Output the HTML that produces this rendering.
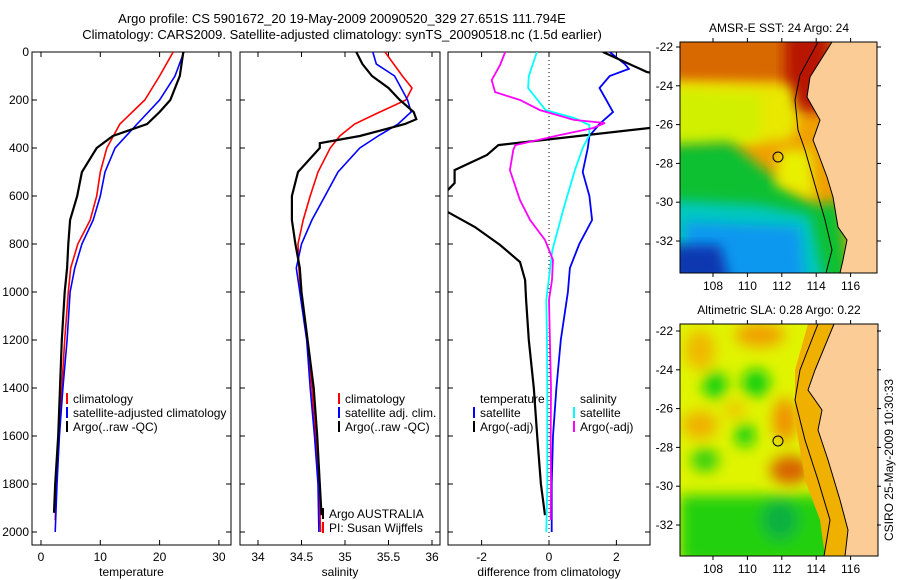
<!DOCTYPE html>
<html><head><meta charset="utf-8"><style>
html,body{margin:0;padding:0;background:#fff}
svg{display:block;font-family:"Liberation Sans",sans-serif}
</style></head><body>
<svg id="fig" width="900" height="580" viewBox="0 0 900 580">
<defs>
<clipPath id="c1"><rect x="32" y="52" width="199" height="493"/></clipPath>
<clipPath id="c2"><rect x="240" y="52" width="200" height="493"/></clipPath>
<clipPath id="c3"><rect x="448" y="52" width="202" height="493"/></clipPath>
<clipPath id="m1"><rect x="680" y="42" width="197" height="231"/></clipPath>
<clipPath id="m2"><rect x="680" y="324" width="198" height="232"/></clipPath>
<filter id="bl" x="-20%" y="-20%" width="140%" height="140%"><feGaussianBlur stdDeviation="7"/></filter>
<filter id="bl2" x="-20%" y="-20%" width="140%" height="140%"><feGaussianBlur stdDeviation="6"/></filter>
</defs>
<text x="342" y="23" font-size="13" text-anchor="middle">Argo profile: CS 5901672_20 19-May-2009 20090520_329 27.651S 111.794E</text>
<text x="342" y="39" font-size="13" text-anchor="middle">Climatology: CARS2009. Satellite-adjusted climatology: synTS_20090518.nc (1.5d earlier)</text>

<!-- Map 1 SST -->
<g clip-path="url(#m1)">
<rect x="680" y="42" width="197" height="231" fill="#f0a000"/>
<rect x="670" y="32" width="160" height="50" fill="#d86800" filter="url(#bl2)"/>
<rect x="785" y="32" width="45" height="80" fill="#b81800" filter="url(#bl2)"/>
<path d="M670,82 L790,85 L800,120 L790,140 L670,150 Z" fill="#e8e800" filter="url(#bl2)"/>
<path d="M670,90 L760,95 L760,140 L670,145 Z" fill="#d0f000" filter="url(#bl2)"/>
<path d="M670,145 L730,142 L765,170 L800,195 L820,205 L840,200 L850,283 L670,283 Z" fill="#10c030" filter="url(#bl2)"/>
<path d="M780,150 L810,150 L815,200 L775,185 Z" fill="#e8f000" filter="url(#bl2)"/>
<path d="M670,200 L760,205 L810,215 L825,283 L670,283 Z" fill="#00c8c0" filter="url(#bl2)"/>
<path d="M685,222 L800,227 L805,283 L685,283 Z" fill="#0898f0" filter="url(#bl2)"/>
<path d="M670,245 L720,245 L730,283 L670,283 Z" fill="#0838b0" filter="url(#bl2)"/>
<path d="M832,42 L810,77 L807,97 L820,120 L813,140 L818,153 L827,177 L833,197 L838,227 L847,240 L843,260 L840,273 L877,273 L877,42 Z" fill="#fccc96"/>
<path d="M832,42 L810,77 L807,97 L820,120 L813,140 L818,153 L827,177 L833,197 L838,227 L847,240 L843,260 L840,273" fill="none" stroke="#000" stroke-width="1"/>
<path d="M818,42 L800,75 L795,100 L798,130 L805,150 L815,185 L825,220 L832,250 L826,273" fill="none" stroke="#000" stroke-width="1"/>
<circle cx="778" cy="157" r="5" fill="none" stroke="#000"/>
</g>
<rect x="680" y="42" width="197" height="231" fill="none" stroke="#000"/>
<text x="779" y="32" font-size="12" text-anchor="middle">AMSR-E SST: 24 Argo: 24</text>

<!-- Map 2 SLA -->
<g clip-path="url(#m2)">
<rect x="680" y="324" width="198" height="232" fill="#e0f400"/>
<g filter="url(#bl)">
<ellipse cx="760" cy="335" rx="25" ry="12" fill="#f0a000"/>
<ellipse cx="700" cy="350" rx="15" ry="20" fill="#f0b800"/>
<ellipse cx="715" cy="385" rx="12" ry="14" fill="#10d010"/>
<ellipse cx="756" cy="383" rx="14" ry="14" fill="#10d010"/>
<ellipse cx="785" cy="420" rx="12" ry="22" fill="#f09000"/>
<ellipse cx="790" cy="470" rx="20" ry="14" fill="#d86000"/>
<ellipse cx="745" cy="435" rx="10" ry="12" fill="#10d010"/>
<ellipse cx="705" cy="460" rx="14" ry="12" fill="#30d010"/>
<ellipse cx="700" cy="425" rx="18" ry="14" fill="#f0b000"/>
<ellipse cx="735" cy="410" rx="10" ry="8" fill="#f0c000"/>
<rect x="680" y="495" width="170" height="70" fill="#20d010"/>
<ellipse cx="780" cy="520" rx="18" ry="20" fill="#10b040"/>
</g>
<path d="M834,324 L815,370 L808,390 L822,410 L818,430 L828,460 L840,500 L848,530 L845,556 L825,556 L820,520 L805,480 L795,420 L795,370 L808,324 Z" fill="#f0b000"/>
<path d="M834,324 L815,370 L808,390 L822,410 L818,430 L828,460 L840,500 L848,530 L845,556 L878,556 L878,324 Z" fill="#fccc96"/>
<path d="M834,324 L815,370 L808,390 L822,410 L818,430 L828,460 L840,500 L848,530 L845,556" fill="none" stroke="#000"/>
<path d="M818,324 L800,370 L795,400 L805,440 L818,480 L830,520 L824,556" fill="none" stroke="#000"/>
<circle cx="778" cy="441" r="5" fill="none" stroke="#000"/>
</g>
<rect x="680" y="324" width="198" height="232" fill="none" stroke="#000"/>
<text x="779" y="314" font-size="12" text-anchor="middle">Altimetric SLA: 0.28 Argo: 0.22</text>
<text x="0" y="0" font-size="12" text-anchor="middle" transform="translate(893,460) rotate(-90)">CSIRO 25-May-2009 10:30:33</text>

<g id="plots"></g>
</svg>
<script>
// ---- profile data (depth in m) ----
const depthTemp = [0,100,200,300,400,500,600,700,800,900,1000,1200,1400,1600,1800,1950];
const tempClim = [22.3,20,17.5,13.3,11.1,10,9.4,8.3,6.2,5,4.6,4.0,3.5,3.0,2.6,2.4];
const depthSat = [0,100,200,300,400,500,600,700,800,900,1000,1200,1400,1600,1800,2000];
const tempSat = [24.1,22.6,20,16.2,12.5,10.8,10,8.8,6.9,5.7,4.9,4.4,3.7,3.1,2.7,2.4];
const depthArgoT = [0,100,200,250,300,350,400,500,600,700,800,900,1000,1200,1400,1600,1800,1920];
const tempArgo = [24,23.4,21.8,20,17.9,12.1,9.4,6.9,6.1,4.9,4.6,4.4,4,3.5,3.2,2.9,2.4,2.2];

const depthSal = [0,100,150,200,250,300,350,400,500,600,700,800,900,1000,1200,1400,1600,1800,2000];
const salClim = [35.46,35.66,35.77,35.7,35.4,35.11,34.94,34.83,34.69,34.6,34.52,34.46,34.47,34.49,34.57,34.62,34.66,34.7,34.72];
const depthSalSat = [0,50,100,200,250,300,350,400,500,600,700,800,900,1000,1200,1400,1600,1800,2000];
const salSat = [35.32,35.36,35.57,35.72,35.76,35.61,35.38,35.17,34.92,34.77,34.62,34.5,34.44,34.48,34.56,34.6,34.65,34.69,34.7];
const depthSalArgo = [0,50,100,150,200,250,280,300,350,380,400,500,600,700,800,900,1000,1200,1400,1600,1800,1930];
const salArgo = [35.13,35.2,35.31,35.5,35.63,35.79,35.82,35.69,35.17,34.71,34.71,34.46,34.39,34.39,34.43,34.48,34.5,34.57,34.64,34.68,34.71,34.73];

const depthDT = [0,50,70,100,150,200,250,300,350,400,500,600,700,800,900,1000,1200,1400,1600,1800,2000];
const diffTempSat = [1.8,2.25,2.37,1.8,1.5,1.7,1.9,1.5,1.2,1.15,1.0,1.2,1.28,0.9,0.62,0.56,0.35,0.22,0.12,0.08,0.08];
const depthDTA = [0,83,150,250,317,388,429,492,546,575,620,667,729,804,875,950,1033,1200,1400,1600,1800,1930];
const diffTempArgo = [1.6,2.9,5,6,2.95,-1.5,-1.84,-2.8,-2.8,-3.0,-4,-3.0,-2.2,-1.45,-0.86,-0.71,-0.68,-0.6,-0.45,-0.35,-0.24,-0.12];
const depthDS = [0,100,150,242,275,304,346,400,492,658,825,1033,1200,1400,1600,1800,2000];
const diffSalSat = [-0.36,-0.6,-0.62,-0.1,0.75,1.2,1.2,1.0,0.77,0.42,0.1,-0.08,-0.06,-0.05,-0.05,-0.05,-0.08];
const depthDSA = [0,54,117,167,200,242,283,296,317,346,388,408,492,617,700,783,867,950,1033,1400,1600,1800,1950];
const diffSalArgo = [-1.3,-1.45,-1.7,-1.6,-0.86,-0.27,0.74,1.66,1.3,0.33,-1.0,-1.06,-1.16,-0.86,-0.56,-0.12,0.12,0.09,0.0,0.06,0.05,0.06,0.05];

const depthTicks = [0,200,400,600,800,1000,1200,1400,1600,1800,2000];
const tempTicks = [0,10,20,30];
const salTicks = [34,34.5,35,35.5,36];
const salTickLabels = ["34","34.5","35","35.5","36"];
const diffTicks = [-2,0,2];

// ---- axes ----
const Y = d => 52 + d*0.24;
const xT = v => 41 + 5.93*v;
const xS = v => 258 + 87*(v-34);
const xD = v => 549 + 33.7*v;
const NS = "http://www.w3.org/2000/svg";
const root = document.getElementById('plots');
function mk(tag, attrs, parent){
  const e = document.createElementNS(NS, tag);
  for (const k in attrs) e.setAttribute(k, attrs[k]);
  (parent||root).appendChild(e); return e;
}
function line(depths, vals, xf, color, w, clip, name){
  const pts = depths.map((d,i)=> xf(vals[i]).toFixed(1)+','+Y(d).toFixed(1)).join(' ');
  const p = mk('polyline',{points:pts,fill:'none',stroke:color,'stroke-width':w,'clip-path':'url(#'+clip+')'});
  
  
}
function panel(x0,x1,ticks,labels,xf,xlabel,name,showY){
  const g = mk('g',{});
  
  
  mk('rect',{x:x0,y:52,width:x1-x0,height:493,fill:'none',stroke:'#000'},g);
  ticks.forEach((t,i)=>{
    const x = xf(t);
    mk('line',{x1:x,y1:545,x2:x,y2:540,stroke:'#000'},g);
    mk('line',{x1:x,y1:52,x2:x,y2:57,stroke:'#000'},g);
    const tx = mk('text',{x:x,y:561,'font-size':12,'text-anchor':'middle'},g);
    tx.textContent = labels[i];
  });
  depthTicks.forEach(d=>{
    mk('line',{x1:x0,y1:Y(d),x2:x0+5,y2:Y(d),stroke:'#000'},g);
    mk('line',{x1:x1,y1:Y(d),x2:x1-5,y2:Y(d),stroke:'#000'},g);
    if (showY){
      const t = mk('text',{x:x0-3,y:Y(d)+4,'font-size':12,'text-anchor':'end'},g);
      t.textContent = d;
    }
  });
  const xl = mk('text',{x:(x0+x1)/2,y:576,'font-size':12,'text-anchor':'middle'},g);
  xl.textContent = xlabel;
}
panel(32,231,tempTicks,tempTicks.map(String),xT,'temperature','temperature-panel',true);
panel(240,440,salTicks,salTickLabels,xS,'salinity','salinity-panel',false);
panel(448,650,diffTicks,diffTicks.map(String),xD,'difference from climatology','difference-panel',false);
function mapAxes(top,bottom,latTop,latScale){
  [108,110,112,114,116].forEach(lon=>{
    const x = 713 + (lon-108)*17.2;
    mk('line',{x1:x,y1:bottom,x2:x,y2:bottom+4,stroke:'#000'});
    mk('line',{x1:x,y1:top,x2:x,y2:top-4,stroke:'#000'});
    const t = mk('text',{x:x,y:bottom+17,'font-size':12,'text-anchor':'middle'});
    t.textContent = lon;
  });
  [-22,-24,-26,-28,-30,-32].forEach(lat=>{
    const y = latTop + (-22-lat)*latScale;
    mk('line',{x1:680,y1:y,x2:676,y2:y,stroke:'#000'});
    mk('line',{x1:877,y1:y,x2:881,y2:y,stroke:'#000'});
    const t = mk('text',{x:673,y:y+4,'font-size':12,'text-anchor':'end'});
    t.textContent = lat;
  });
}
mapAxes(42,273,47,19.4);
mapAxes(324,556,331,19.4);

mk('line',{x1:xD(0),y1:52,x2:xD(0),y2:545,stroke:'#000','stroke-dasharray':'1,3'});

line(depthTemp,tempClim,xT,'#f00',1.6,'c1','temp-climatology-line');
line(depthSat,tempSat,xT,'#00f',1.6,'c1','temp-satellite-line');
line(depthArgoT,tempArgo,xT,'#000',2.2,'c1','temp-argo-line');
line(depthSal,salClim,xS,'#f00',1.6,'c2','sal-climatology-line');
line(depthSalSat,salSat,xS,'#00f',1.6,'c2','sal-satellite-line');
line(depthSalArgo,salArgo,xS,'#000',2.2,'c2','sal-argo-line');
line(depthDT,diffTempSat,xD,'#00f',1.8,'c3','diff-temp-satellite-line');
line(depthDTA,diffTempArgo,xD,'#000',2.2,'c3','diff-temp-argo-line');
line(depthDS,diffSalSat,xD,'#0ff',1.8,'c3','diff-sal-satellite-line');
line(depthDSA,diffSalArgo,xD,'#f0f',1.8,'c3','diff-sal-argo-line');

function legend(x,y,color,label,name){
  const g = mk('g',{});
  
  
  if (color) mk('line',{x1:x,y1:y-10,x2:x,y2:y+1,stroke:color,'stroke-width':2},g);
  const t = mk('text',{x:x+6,y:y,'font-size':12},g);
  t.textContent = label;
}
legend(67,403,'#f00','climatology','legend-climatology');
legend(67,417,'#00f','satellite-adjusted climatology','legend-satellite');
legend(67,431,'#000','Argo(..raw -QC)','legend-argo');
legend(339,403,'#f00','climatology','legend-sal-climatology');
legend(339,417,'#00f','satellite adj. clim.','legend-sal-satellite');
legend(339,431,'#000','Argo(..raw -QC)','legend-sal-argo');
legend(323,518,'#000','Argo AUSTRALIA','argo-country');
legend(323,532,'#f00','PI: Susan Wijffels','principal-investigator');
legend(474,403,null,'temperature','legend-temperature-header');
legend(474,417,'#00f','satellite','legend-diff-temp-satellite');
legend(474,431,'#000','Argo(-adj)','legend-diff-temp-argo');
legend(574,403,null,'salinity','legend-salinity-header');
legend(574,417,'#0ff','satellite','legend-diff-sal-satellite');
legend(574,431,'#f0f','Argo(-adj)','legend-diff-sal-argo');
</script>
</body></html>
